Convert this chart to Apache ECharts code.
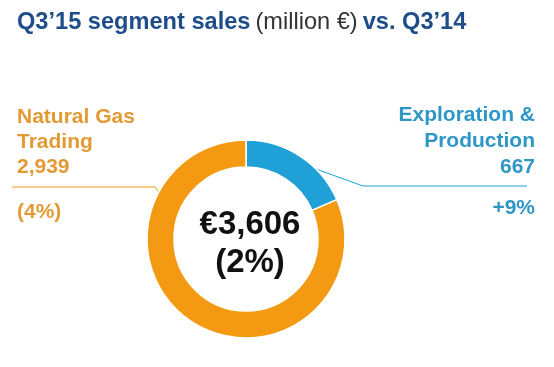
<!DOCTYPE html>
<html><head><meta charset="utf-8">
<script src="https://cdn.jsdelivr.net/npm/echarts@6/dist/echarts.min.js"></script>
<style>html,body{margin:0;padding:0;background:#fff}#c{width:554px;height:367px}</style>
</head><body><div id="c"></div>
<script>
const segments = ['Exploration &\nProduction', 'Natural Gas\nTrading'];
const sales = [667, 2939];
const changes = ['+9%', '(4%)'];
const totalLabel = '€3,606';
const totalChange = '(2%)';
const colors = ['#1FA0D6', '#F39A12'];
const textColors = ['#2E97C6', '#E39A34'];

const cx = 246, cy = 239, rOut = 99, rIn = 72;
const chart = echarts.init(document.getElementById('c'));
const font = '"Liberation Sans", Arial, sans-serif';

function edgePoint(y, side) {
  const dy = y - cy;
  const dx = Math.sqrt(rOut * rOut - dy * dy);
  return [cx + side * dx, y];
}

chart.setOption({
  animation: false,
  title: [{
    left: 12, top: 5,
    text: "{b|Q3’15 segment sales} {n|(million €)} {b|vs. Q3’14}",
    textStyle: {
      rich: {
        b: {fontFamily: font, fontSize: 23.6, fontWeight: 'bold', color: '#1E4D8A'},
        n: {fontFamily: font, fontSize: 23.6, fontWeight: 'normal', color: '#333333'}
      }
    }
  }, {
    left: 245, top: cy - 38, textAlign: 'center',
    text: totalLabel + '\n' + totalChange,
    textStyle: {fontFamily: font, fontSize: 33, fontWeight: 'bold', color: '#111', lineHeight: 38}
  }],
  series: [{
    type: 'pie',
    center: [cx, cy],
    radius: [rIn, rOut],
    startAngle: 90,
    clockwise: true,
    silent: true,
    itemStyle: {borderColor: '#fff', borderWidth: 1.5},
    data: segments.map((s, i) => ({
      name: s, value: sales[i],
      itemStyle: {color: colors[i]},
      label: {
        formatter: function (p) {
          const lines = p.name.split('\n').map(l => '{a|' + l + '}');
          lines.push('{a|' + sales[p.dataIndex].toLocaleString('en-US') + '}');
          lines.push('{g|}');
          lines.push('{a|' + changes[p.dataIndex] + '}');
          return lines.join('\n');
        },
        rich: i === 0 ? {
          a: {fontFamily: font, fontSize: 21, fontWeight: 'bold', color: textColors[0], lineHeight: 26, align: 'right'},
          g: {height: 15, lineHeight: 15, align: 'right'}
        } : {
          a: {fontFamily: font, fontSize: 21, fontWeight: 'bold', color: textColors[1], lineHeight: 25, align: 'left'},
          g: {height: 20, lineHeight: 20, align: 'left'}
        }
      },
      labelLine: {lineStyle: {color: colors[i], width: 1}}
    })),
    label: {show: true, position: 'outside'},
    labelLine: {show: true, length: 10, length2: 10, smooth: false},
    labelLayout: function (p) {
      if (p.dataIndex === 0) {
        return {
          x: 535, y: 102, align: 'right', verticalAlign: 'top',
          labelLinePoints: [edgePoint(169, 1), [363, 186], [527, 186]]
        };
      }
      return {
        x: 17, y: 105, align: 'left', verticalAlign: 'top',
        labelLinePoints: [edgePoint(192, -1), [155, 187], [12, 187]]
      };
    }
  }]
});
</script></body></html>
